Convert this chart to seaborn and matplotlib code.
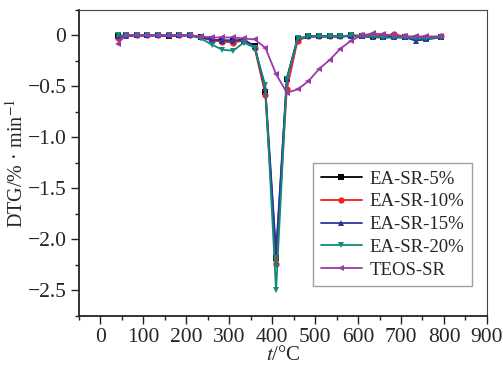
import matplotlib
matplotlib.use("Agg")
import matplotlib.pyplot as plt
import seaborn as sns
import numpy as np
import pandas as pd
from matplotlib.ticker import MultipleLocator

temps = [40, 59, 84, 109, 134, 159, 184, 209, 234, 259, 284, 309, 334, 359, 384,
         409, 434, 459, 484, 509, 534, 559, 584, 609, 634, 659, 684, 709, 734, 759, 792]

ea5 = [-0.01, 0, 0, 0, 0, -0.01, 0, 0, -0.02, -0.04, -0.05, -0.05, -0.05, -0.10, -0.55,
       -2.18, -0.43, -0.04, -0.01, -0.01, -0.01, -0.01, 0.0, -0.01, -0.01, -0.02, -0.01,
       -0.02, -0.03, -0.03, -0.02]
ea10 = [-0.03, 0, 0, 0, 0, 0, 0, 0, -0.02, -0.05, -0.06, -0.07, -0.05, -0.12, -0.58,
        -2.24, -0.53, -0.05, -0.01, -0.01, -0.01, -0.01, 0.0, 0.0, 0.0, 0.0, 0.01,
        -0.01, -0.02, -0.02, -0.01]
ea15 = [-0.01, -0.01, 0, 0, 0, 0, 0, 0, -0.02, -0.04, -0.05, -0.05, -0.04, -0.11, -0.52,
        -2.12, -0.42, -0.03, -0.01, -0.01, -0.01, -0.01, -0.01, -0.01, -0.02, -0.02, -0.02,
        -0.02, -0.05, -0.04, -0.02]
ea20 = [0, 0, 0, 0, 0, 0, 0, 0, -0.03, -0.09, -0.14, -0.15, -0.07, -0.12, -0.49,
        -2.50, -0.43, -0.03, -0.01, -0.01, -0.01, -0.01, 0, -0.01, -0.01, -0.02, -0.02,
        -0.02, -0.03, -0.03, -0.02]
teos = [-0.08, 0, 0, 0, 0, 0, 0, 0, -0.01, -0.02, -0.02, -0.02, -0.03, -0.04, -0.12,
        -0.38, -0.56, -0.53, -0.45, -0.33, -0.24, -0.13, -0.05, 0.0, 0.02, 0.01, 0.0,
        -0.01, -0.01, -0.01, -0.01]

labels = ["EA-SR-5%", "EA-SR-10%", "EA-SR-15%", "EA-SR-20%", "TEOS-SR"]
series = [ea5, ea10, ea15, ea20, teos]
colors = ["#000000", "#f02020", "#2b35a0", "#108a7c", "#9a3aa8"]
markers = ["s", "o", "^", "v", "<"]
yticks = [0, -0.5, -1.0, -1.5, -2.0, -2.5]
yticklabels = ["0", "\u22120.5", "\u22121.0", "\u22121.5", "\u22122.0", "\u22122.5"]

sns.set_theme(style="white")
plt.rcParams["font.family"] = ["Liberation Serif", "DejaVu Serif"]
plt.rcParams["mathtext.fontset"] = "stix"

fig = plt.figure(figsize=(5.03, 3.67), dpi=100)
ax = fig.add_axes([0.157, 0.139, 0.811, 0.834])

for lab, ys, c, m in zip(labels, series, colors, markers):
    df = pd.DataFrame({"t": temps, "v": ys})
    sns.lineplot(data=df, x="t", y="v", ax=ax, color=c, marker=m, markersize=4.5,
                 markeredgewidth=0, linewidth=1.3, label=lab)

ax.set_xlim(-50, 900)
ax.set_ylim(-2.75, 0.25)
ax.xaxis.set_major_locator(MultipleLocator(100))
ax.xaxis.set_minor_locator(MultipleLocator(50))
ax.yaxis.set_minor_locator(MultipleLocator(0.25))
ax.set_yticks(yticks)
ax.set_yticklabels(yticklabels)
ax.tick_params(axis="both", which="major", direction="out", length=6, width=1,
               labelsize=15.5, color="#222222", bottom=True, left=True, pad=3)
ax.tick_params(axis="both", which="minor", direction="out", length=3, width=1,
               color="#222222", bottom=True, left=True)
for s in ["left", "bottom"]:
    ax.spines[s].set_color("#222222")
    ax.spines[s].set_linewidth(1.3)
for s in ["top", "right"]:
    ax.spines[s].set_color("#444444")
    ax.spines[s].set_linewidth(0.8)

ax.set_xlabel("$\\mathit{t}$/\u00b0C", fontsize=15, labelpad=-1)
ax.set_ylabel("DTG/% \u00b7 min$^{-1}$", fontsize=14.5, labelpad=0)

leg = ax.legend(loc="upper left", bbox_to_anchor=(0.574, 0.5), borderaxespad=0,
                fontsize=13.5, frameon=True, fancybox=False, edgecolor="#888888",
                labelspacing=0.3, handlelength=2.2, handletextpad=0.4,
                borderpad=0.4)
leg.get_frame().set_linewidth(1.0)

fig.savefig("out.png", dpi=100)
